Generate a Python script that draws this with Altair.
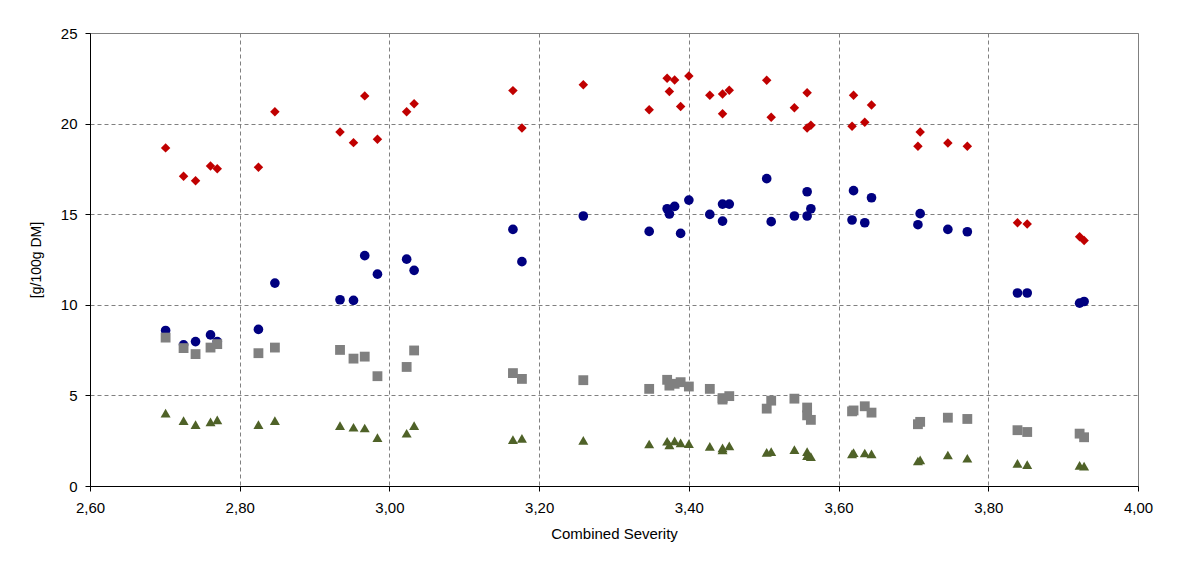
import altair as alt
import pandas as pd

severity = [2.701, 2.725, 2.741, 2.761, 2.770, 2.825, 2.847, 2.934, 2.952, 2.967,
            2.984, 3.023, 3.033, 3.165, 3.177, 3.259, 3.347, 3.371, 3.374, 3.381,
            3.389, 3.400, 3.428, 3.445, 3.445, 3.454, 3.504, 3.510, 3.541, 3.558,
            3.558, 3.563, 3.620, 3.618, 3.635, 3.644, 3.709, 3.706, 3.746, 3.772,
            3.839, 3.852, 3.922, 3.928]

red_vals = [18.66, 17.09, 16.85, 17.66, 17.51, 17.59, 20.65, 19.54, 18.95, 21.53,
            19.13, 20.66, 21.09, 21.82, 19.76, 22.14, 20.77, 22.50, 21.77, 22.41,
            20.94, 22.63, 21.56, 21.64, 20.54, 21.84, 22.39, 20.35, 20.87, 21.70,
            19.76, 19.91, 21.56, 19.85, 20.07, 21.03, 19.54, 18.75, 18.93, 18.75,
            14.53, 14.46, 13.76, 13.55]

blue_vals = [8.58, 7.79, 7.97, 8.34, 7.97, 8.64, 11.20, 10.28, 10.24, 12.71,
             11.69, 12.52, 11.90, 14.16, 12.38, 14.90, 14.05, 15.30, 15.01, 15.43,
             13.94, 15.78, 14.99, 15.56, 14.62, 15.56, 16.96, 14.59, 14.90, 16.24,
             14.90, 15.30, 16.30, 14.68, 14.53, 15.91, 15.03, 14.42, 14.16, 14.03,
             10.65, 10.65, 10.09, 10.18]

gray_vals = [8.19, 7.61, 7.28, 7.64, 7.83, 7.33, 7.64, 7.51, 7.03, 7.14,
             6.06, 6.57, 7.48, 6.23, 5.91, 5.84, 5.36, 5.86, 5.54, 5.64,
             5.73, 5.49, 5.36, 4.85, 4.77, 4.96, 4.27, 4.71, 4.82, 4.33,
             3.90, 3.65, 4.17, 4.12, 4.40, 4.05, 3.54, 3.41, 3.77, 3.70,
             3.08, 2.98, 2.89, 2.69]

green_vals = [4.02, 3.61, 3.39, 3.54, 3.65, 3.39, 3.61, 3.33, 3.24, 3.20,
              2.67, 2.91, 3.33, 2.56, 2.63, 2.52, 2.32, 2.47, 2.27, 2.49,
              2.38, 2.34, 2.19, 2.10, 1.99, 2.21, 1.86, 1.90, 2.01, 1.90,
              1.68, 1.62, 1.84, 1.77, 1.82, 1.77, 1.44, 1.38, 1.71, 1.53,
              1.25, 1.18, 1.14, 1.10]

series_names = ["Series 1", "Series 2", "Series 3", "Series 4"]
series_colors = ["#C00000", "#000080", "#808080", "#4F6228"]
series_shapes = ["diamond", "circle", "square", "triangle-up"]
series_sizes = [90, 100, 81, 95]
x_ticks = [2.6, 2.8, 3.0, 3.2, 3.4, 3.6, 3.8, 4.0]
y_ticks = [0, 5, 10, 15, 20, 25]

rows = []
for name, vals in zip(series_names, [red_vals, blue_vals, gray_vals, green_vals]):
    for xv, yv in zip(severity, vals):
        rows.append({"severity": xv, "value": yv, "series": name})
df = pd.DataFrame(rows)

FONT = "Liberation Sans"

chart = alt.Chart(df).mark_point(filled=True, opacity=1, strokeWidth=0).encode(
    x=alt.X("severity:Q",
            scale=alt.Scale(domain=[2.6, 4.0], nice=False, zero=False),
            axis=alt.Axis(title="Combined Severity", values=x_ticks,
                          labelExpr="replace(format(datum.value, '.2f'), '.', ',')",
                          labelFlush=False, labelPadding=9,
                          titleY=47, titleBaseline="middle", titleFontSize=15)),
    y=alt.Y("value:Q",
            scale=alt.Scale(domain=[0, 25], nice=False),
            axis=alt.Axis(title="[g/100g DM]", values=y_ticks, labelPadding=8,
                          labelFlush=False,
                          titleX=-54, titleBaseline="middle", titleFontSize=14)),
    color=alt.Color("series:N", scale=alt.Scale(domain=series_names, range=series_colors), legend=None),
    shape=alt.Shape("series:N", scale=alt.Scale(domain=series_names, range=series_shapes), legend=None),
    size=alt.Size("series:N", scale=alt.Scale(domain=series_names, range=series_sizes), legend=None),
    order=alt.Order("order:Q"),
).transform_calculate(
    order="indexof(['Series 1','Series 2','Series 3','Series 4'], datum.series)"
).properties(
    width=1048,
    height=453,
    autosize=alt.AutoSizeParams(type="none"),
    padding={"left": 82, "top": 25, "right": 40, "bottom": 60},
).configure_view(
    stroke="#808080", strokeWidth=1
).configure_axis(
    labelFont=FONT, titleFont=FONT, labelFontSize=15,
    labelColor="#000000", titleColor="#000000", titleFontWeight="normal",
    domainColor="#000000", domainWidth=1, tickColor="#000000", tickSize=5,
    grid=True, gridColor="#808080", gridDash=[4, 3], gridWidth=1,
)

chart.save("out.html", embed_options={"renderer": "svg", "actions": False})
